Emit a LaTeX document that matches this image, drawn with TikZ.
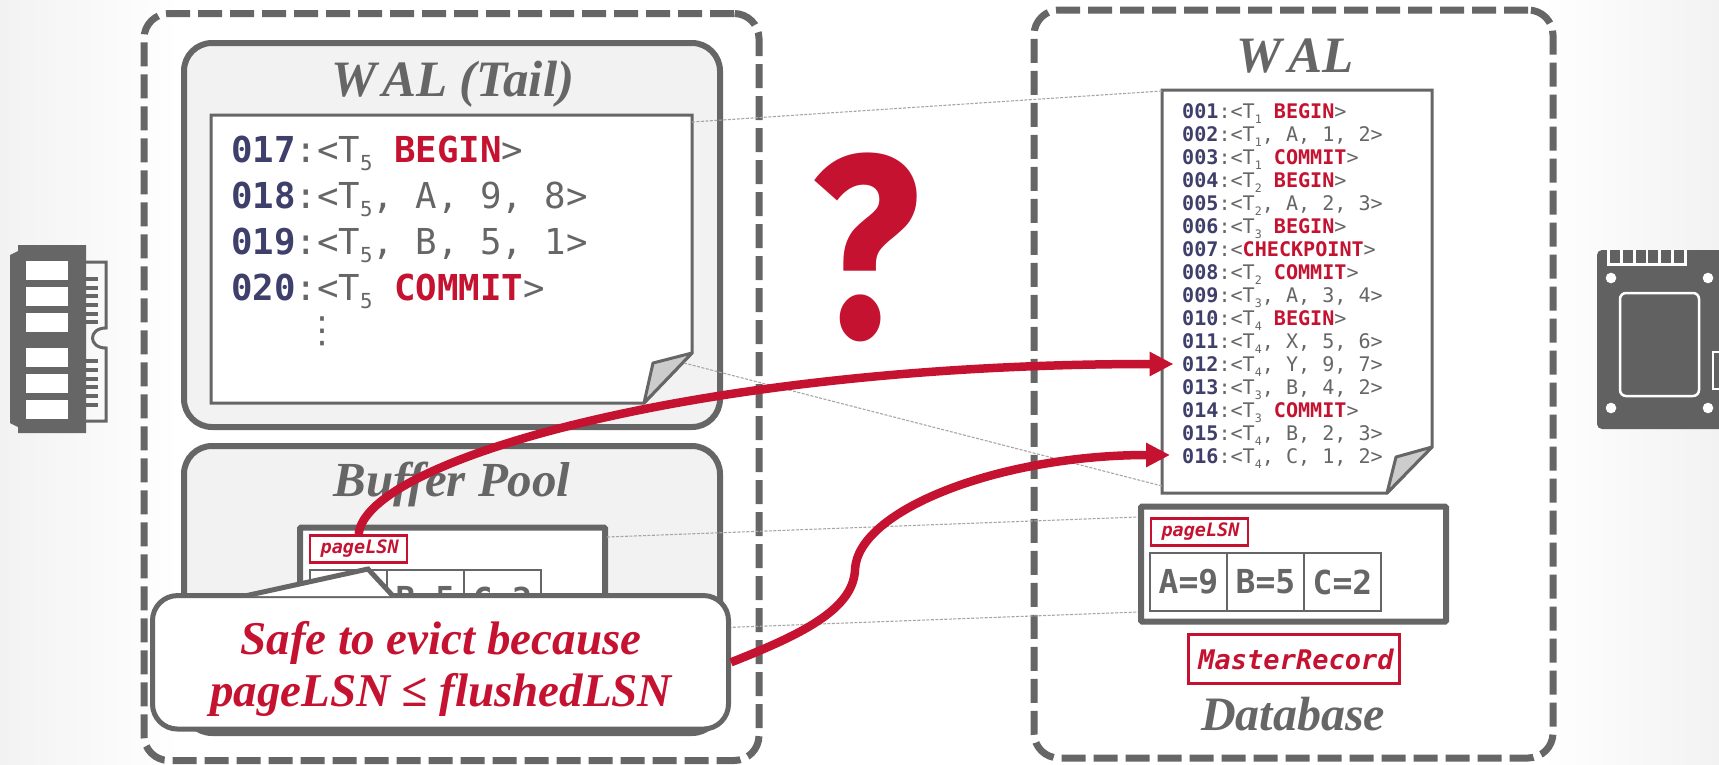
\documentclass[tikz,border=0pt]{standalone}
\usepackage{fontspec}
\setmainfont{Liberation Serif}
\newfontfamily\logfont{DejaVu Sans Mono}
\newfontfamily\dotsfont{DejaVu Sans}
\newfontfamily\markfont{Fira Sans}
\usetikzlibrary{arrows.meta}
\definecolor{inkgray}{HTML}{666666}
\definecolor{cmured}{HTML}{C41230}
\definecolor{lsnblue}{HTML}{3F3F6B}
\definecolor{panelgray}{HTML}{F2F2F2}
\definecolor{foldgray}{HTML}{CCCCCC}
\newcommand{\lsnno}[1]{{\bfseries\color{lsnblue}#1}:}
\newcommand{\txnid}[1]{<T\raisebox{-.22em}{\scalebox{.58}{#1}}}
\newcommand{\kw}[1]{{\bfseries\color{cmured}#1}}

\begin{document}
\begin{tikzpicture}[x=1pt, y=-1pt, line join=miter,
	zone/.style={draw=inkgray, line width=7pt, rounded corners=25pt, dash pattern=on 24pt off 8pt},
	panel/.style={draw=inkgray, fill=panelgray, line width=6pt, rounded corners=28pt},
	heading/.style={text=inkgray, inner sep=0pt, font=\bfseries\itshape\fontsize{51}{51}\selectfont},
	logbig/.style={text=inkgray, inner sep=0pt, align=left, anchor=north west, font=\logfont\fontsize{35.7}{46}\selectfont},
	logsmall/.style={text=inkgray, inner sep=0pt, align=left, anchor=north west, font=\logfont\fontsize{20.1}{23}\selectfont},
	sheet/.style={draw=inkgray, fill=white, line width=3pt},
	fold/.style={draw=inkgray, fill=foldgray, line width=3pt, line join=round},
	pageframe/.style={draw=inkgray, fill=white, line width=6pt, inner sep=0pt, minimum width=305pt, minimum height=115pt, rounded corners=1pt},
	tag/.style={draw=cmured, fill=white, line width=2.5pt, text=cmured, inner sep=0pt, font=\logfont\bfseries\itshape\fontsize{18.5}{18.5}\selectfont, minimum width=97pt, minimum height=27pt},
	cell/.style={draw=inkgray, fill=white, line width=2.5pt, text=inkgray, inner sep=0pt, outer sep=0pt, font=\logfont\bfseries\fontsize{33}{33}\selectfont, minimum width=77pt, minimum height=58pt},
	copyline/.style={draw=gray!70, line width=1.1pt, dash pattern=on 3pt off 1.5pt},
	flush/.style={draw=cmured, line width=8.5pt, -{Triangle[length=24pt, width=23pt]}},
	]

\useasboundingbox (0,0) rectangle (1719,764);
\shade[left color=panelgray, right color=white] (0,0) rectangle (180,764);
\shade[left color=white, right color=panelgray] (1540,0) rectangle (1719,764);

% memory side
\node[zone, minimum width=615pt, minimum height=747pt] (memzone) at (451.5,387) {};
\node[panel, minimum width=536pt, minimum height=384pt] (tailpanel) at (452,235) {};
\node[heading] (tailtitle) at (453,84) {W\kern5pt AL (Tail)};
\path[sheet] (211,115) -- (692,115) -- (692,353) -- (644,403) -- (211,403) -- cycle;
\path[fold] (692,353) -- (653,363) -- (644,403) -- cycle;
\node[logbig] (taillog) at (231,135.5) {\lsnno{017}\txnid{5} \kw{BEGIN}>\\
	\lsnno{018}\txnid{5}, A, 9, 8>\\
	\lsnno{019}\txnid{5}, B, 5, 1>\\
	\lsnno{020}\txnid{5} \kw{COMMIT}>};
\node[text=inkgray, inner sep=0pt, font=\dotsfont\fontsize{36}{36}\selectfont] (taildots) at (322,331) {⋮};
\coordinate (tailtop) at (692,122);
\coordinate (tailfold) at (684,363);

\node[panel, minimum width=536pt, minimum height=287pt] (bufpanel) at (452,589.5) {};
\node[heading, font=\bfseries\itshape\fontsize{49}{49}\selectfont] (buftitle) at (452,484) {Buffer Pool};
\node[pageframe] (bufpage) at (452.5,585) {};
\node[tag] (buftag) at (358.7,549) {\hspace{2pt}pageLSN};
\node[cell] (bufa) at (348.5,599) {A=9};
\node[cell, anchor=west] (bufb) at (bufa.east) {B=5};
\node[cell, anchor=west] (bufc) at (bufb.east) {C=2};
\coordinate (bufup) at (607,537);
\coordinate (bufdown) at (607,632);

% disk side
\node[zone, minimum width=519pt, minimum height=748pt] (diskzone) at (1293.5,384) {};
\node[heading] (waltitle) at (1295,56) {W\kern6pt AL};
\path[sheet] (1162,90) -- (1432,90) -- (1432,447) -- (1387,493) -- (1162,493) -- cycle;
\path[fold] (1432,447) -- (1396,457) -- (1387,493) -- cycle;
\node[logsmall] (wallog) at (1182,103.5) {\lsnno{001}\txnid{1} \kw{BEGIN}>\\
	\lsnno{002}\txnid{1}, A, 1, 2>\\
	\lsnno{003}\txnid{1} \kw{COMMIT}>\\
	\lsnno{004}\txnid{2} \kw{BEGIN}>\\
	\lsnno{005}\txnid{2}, A, 2, 3>\\
	\lsnno{006}\txnid{3} \kw{BEGIN}>\\
	\lsnno{007}<\kw{CHECKPOINT}>\\
	\lsnno{008}\txnid{2} \kw{COMMIT}>\\
	\lsnno{009}\txnid{3}, A, 3, 4>\\
	\lsnno{010}\txnid{4} \kw{BEGIN}>\\
	\lsnno{011}\txnid{4}, X, 5, 6>\\
	\lsnno{012}\txnid{4}, Y, 9, 7>\\
	\lsnno{013}\txnid{3}, B, 4, 2>\\
	\lsnno{014}\txnid{3} \kw{COMMIT}>\\
	\lsnno{015}\txnid{4}, B, 2, 3>\\
	\lsnno{016}\txnid{4}, C, 1, 2>};
\coordinate (waltop) at (1162,91);
\coordinate (walbottom) at (1162,486);
\coordinate (walhita) at (1173.5,364);
\coordinate (walhitb) at (1170,455);

\node[pageframe] (diskpage) at (1293.5,564) {};
\node[tag] (disktag) at (1199.5,532) {\hspace{2pt}pageLSN};
\node[cell] (diska) at (1188.5,582) {A=9};
\node[cell, anchor=west] (diskb) at (diska.east) {B=5};
\node[cell, anchor=west] (diskc) at (diskb.east) {C=2};
\coordinate (diskup) at (1138,517);
\coordinate (diskdown) at (1138,612);
\node[tag, minimum width=211pt, minimum height=49pt, font=\logfont\bfseries\itshape\fontsize{27}{27}\selectfont] (master) at (1294,659) {\hspace{4pt}MasterRecord};
\node[heading, font=\bfseries\itshape\fontsize{48}{48}\selectfont] (dbtitle) at (1293,714) {Database};

\draw[copyline] (tailtop) -- (waltop);
\draw[copyline] (tailfold) -- (walbottom);
\draw[copyline] (bufup) -- (diskup);
\draw[copyline] (bufdown) -- (diskdown);

\node[text=cmured, inner sep=0pt, font=\markfont\bfseries\fontsize{260}{260}\selectfont] (question) at (866,247) {\scalebox{.87}[1]{?}};

\draw[flush] (buftag.north) .. controls (365,460) and (700,364) .. (walhita);

% callout over the buffer pool
\node[draw=inkgray, fill=white, line width=5pt, rounded corners=25pt, minimum width=576pt, minimum height=133.5pt, inner sep=0pt] (callout) at (440.5,662.3) {};
\coordinate (tailpoint) at (368,569);
\fill[white] (249,596) -- (tailpoint) -- (393.5,596) -- cycle;
\draw[draw=inkgray, line width=5pt] (247,595.5) -- (tailpoint) -- (393.5,596.5);
\node[inner sep=0pt, align=center, text=cmured, font=\bfseries\itshape\fontsize{47}{52}\selectfont] (safetext) at (441,669) {Safe to evict because\\pageLSN ≤ flushedLSN};

\draw[flush] (callout.east) .. controls (800,635) and (853,610) .. (855,570) .. controls (857,510) and (1000,455) .. (walhitb);

% memory stick
\fill[inkgray] (18,245) -- (86,245) -- (86,433) -- (18,433) -- (18,427) -- (10,423) -- (10,255) -- (18,251) -- cycle;
\foreach \wy in {261,287,313,348,374,400}
	\fill[white] (26,\wy) rectangle (68,\wy+19);
\foreach \py in {276.7,285.7,294,302.7,311.7,320,359,367.7,376.7,385,394,403}
	\fill[inkgray] (86,\py) rectangle (98,\py+4);
\draw[inkgray, line width=3pt] (86,262) -- (106,262) -- (106,328) .. controls (88,328) and (88,348) .. (106,348) -- (106,421) -- (86,421);

% solid state disk
\fill[inkgray!95!black, rounded corners=5pt] (1597,250) rectangle (1730,429);
\fill[white] (1607,250) rectangle (1687,266);
\foreach \bx in {1610,1623,1636,1648,1661,1674}
	\fill[inkgray!95!black] (\bx,250) rectangle (\bx+9.5,263);
\foreach \hx/\hy in {1611/278,1708/278,1611/408,1708/408}
	\fill[white] (\hx,\hy) circle (5.3pt);
\draw[white, line width=2.5pt, rounded corners=6pt] (1620,293) rectangle (1699,396);
\draw[white, line width=2.5pt] (1719,352) -- (1713,352) -- (1713,389) -- (1719,389);

\end{tikzpicture}
\end{document}
